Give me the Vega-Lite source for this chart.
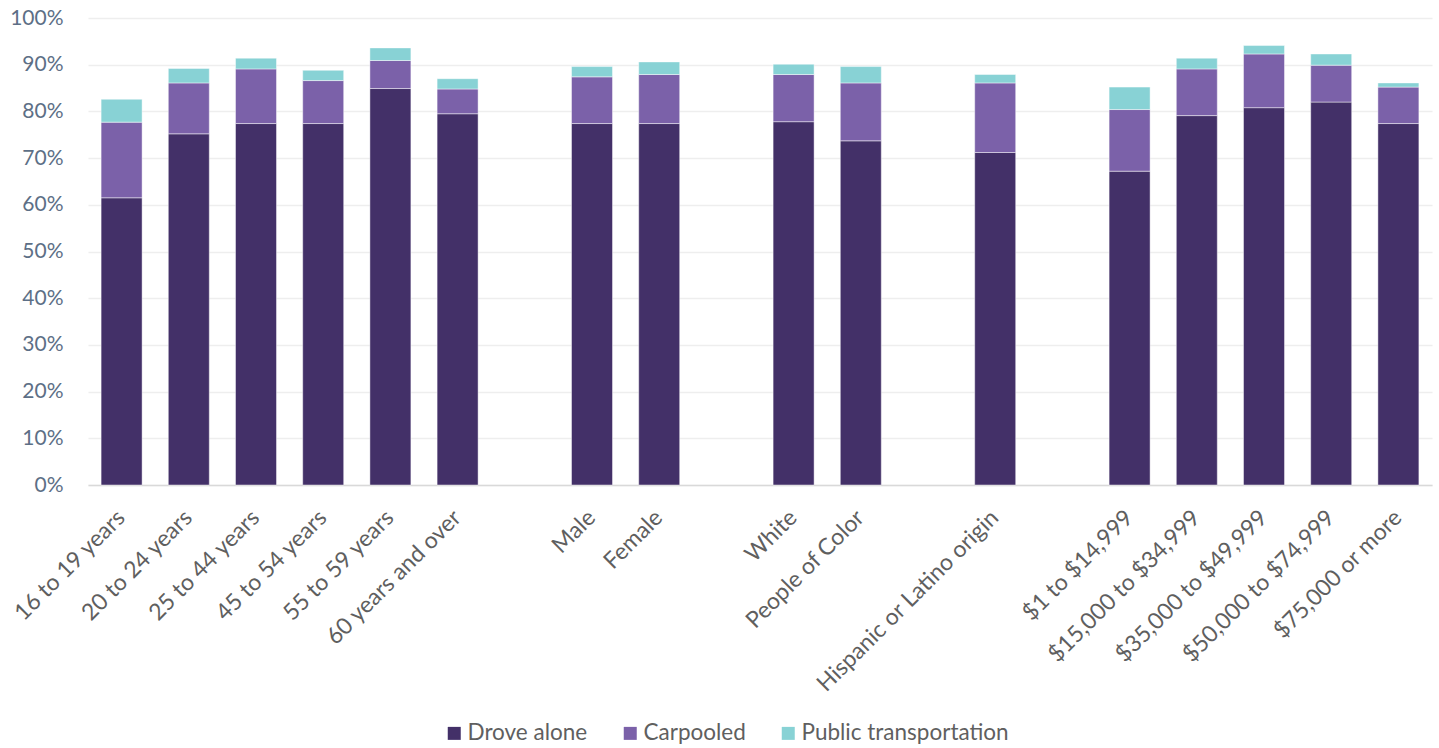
{
  "$schema": "https://vega.github.io/schema/vega-lite/v6.json",
  "width": 1344,
  "height": 467,
  "autosize": {"type": "none"},
  "padding": {"left": 88, "top": 18, "right": 7, "bottom": 263},
  "background": "#ffffff",
  "data": {
    "values": [
      {"group": "16 to 19 years", "mode": "Drove alone", "k": 1, "value": 61.5},
      {"group": "16 to 19 years", "mode": "Carpooled", "k": 2, "value": 16.2},
      {"group": "16 to 19 years", "mode": "Public transportation", "k": 3, "value": 4.9},
      {"group": "20 to 24 years", "mode": "Drove alone", "k": 1, "value": 75.2},
      {"group": "20 to 24 years", "mode": "Carpooled", "k": 2, "value": 10.9},
      {"group": "20 to 24 years", "mode": "Public transportation", "k": 3, "value": 3.1},
      {"group": "25 to 44 years", "mode": "Drove alone", "k": 1, "value": 77.4},
      {"group": "25 to 44 years", "mode": "Carpooled", "k": 2, "value": 11.7},
      {"group": "25 to 44 years", "mode": "Public transportation", "k": 3, "value": 2.3},
      {"group": "45 to 54 years", "mode": "Drove alone", "k": 1, "value": 77.4},
      {"group": "45 to 54 years", "mode": "Carpooled", "k": 2, "value": 9.2},
      {"group": "45 to 54 years", "mode": "Public transportation", "k": 3, "value": 2.2},
      {"group": "55 to 59 years", "mode": "Drove alone", "k": 1, "value": 84.9},
      {"group": "55 to 59 years", "mode": "Carpooled", "k": 2, "value": 6.0},
      {"group": "55 to 59 years", "mode": "Public transportation", "k": 3, "value": 2.7},
      {"group": "60 years and over", "mode": "Drove alone", "k": 1, "value": 79.5},
      {"group": "60 years and over", "mode": "Carpooled", "k": 2, "value": 5.3},
      {"group": "60 years and over", "mode": "Public transportation", "k": 3, "value": 2.2},
      {"group": "Male", "mode": "Drove alone", "k": 1, "value": 77.4},
      {"group": "Male", "mode": "Carpooled", "k": 2, "value": 10.0},
      {"group": "Male", "mode": "Public transportation", "k": 3, "value": 2.2},
      {"group": "Female", "mode": "Drove alone", "k": 1, "value": 77.4},
      {"group": "Female", "mode": "Carpooled", "k": 2, "value": 10.5},
      {"group": "Female", "mode": "Public transportation", "k": 3, "value": 2.7},
      {"group": "White", "mode": "Drove alone", "k": 1, "value": 77.8},
      {"group": "White", "mode": "Carpooled", "k": 2, "value": 10.1},
      {"group": "White", "mode": "Public transportation", "k": 3, "value": 2.2},
      {"group": "People of Color", "mode": "Drove alone", "k": 1, "value": 73.7},
      {"group": "People of Color", "mode": "Carpooled", "k": 2, "value": 12.4},
      {"group": "People of Color", "mode": "Public transportation", "k": 3, "value": 3.5},
      {"group": "Hispanic or Latino origin", "mode": "Drove alone", "k": 1, "value": 71.2},
      {"group": "Hispanic or Latino origin", "mode": "Carpooled", "k": 2, "value": 14.9},
      {"group": "Hispanic or Latino origin", "mode": "Public transportation", "k": 3, "value": 1.8},
      {"group": "$1 to $14,999", "mode": "Drove alone", "k": 1, "value": 67.2},
      {"group": "$1 to $14,999", "mode": "Carpooled", "k": 2, "value": 13.2},
      {"group": "$1 to $14,999", "mode": "Public transportation", "k": 3, "value": 4.8},
      {"group": "$15,000 to $34,999", "mode": "Drove alone", "k": 1, "value": 79.1},
      {"group": "$15,000 to $34,999", "mode": "Carpooled", "k": 2, "value": 10.0},
      {"group": "$15,000 to $34,999", "mode": "Public transportation", "k": 3, "value": 2.3},
      {"group": "$35,000 to $49,999", "mode": "Drove alone", "k": 1, "value": 80.8},
      {"group": "$35,000 to $49,999", "mode": "Carpooled", "k": 2, "value": 11.5},
      {"group": "$35,000 to $49,999", "mode": "Public transportation", "k": 3, "value": 1.8},
      {"group": "$50,000 to $74,999", "mode": "Drove alone", "k": 1, "value": 82.0},
      {"group": "$50,000 to $74,999", "mode": "Carpooled", "k": 2, "value": 7.9},
      {"group": "$50,000 to $74,999", "mode": "Public transportation", "k": 3, "value": 2.4},
      {"group": "$75,000 or more", "mode": "Drove alone", "k": 1, "value": 77.4},
      {"group": "$75,000 or more", "mode": "Carpooled", "k": 2, "value": 7.8},
      {"group": "$75,000 or more", "mode": "Public transportation", "k": 3, "value": 0.9}
    ]
  },
  "mark": {"type": "bar", "stroke": "#ffffff", "strokeWidth": 1, "strokeOpacity": 0.45},
  "encoding": {
    "x": {
      "field": "group",
      "type": "nominal",
      "title": null,
      "scale": {
        "domain": ["16 to 19 years", "20 to 24 years", "25 to 44 years", "45 to 54 years", "55 to 59 years", "60 years and over", "gap1", "Male", "Female", "gap2", "White", "People of Color", "gap3", "Hispanic or Latino origin", "gap4", "$1 to $14,999", "$15,000 to $34,999", "$35,000 to $49,999", "$50,000 to $74,999", "$75,000 or more"],
        "paddingInner": 0.39,
        "paddingOuter": 0.195
      },
      "axis": {
        "labelExpr": "slice(datum.value, 0, 3) == 'gap' ? '' : datum.label",
        "labelAngle": -45,
        "labelAlign": "right",
        "labelBaseline": "top",
        "labelPadding": 21,
        "labelOffset": -8,
        "labelFont": "Lato",
        "labelFontSize": 23,
        "labelColor": "#5f5f5f",
        "labelLimit": 400,
        "ticks": false,
        "domainColor": "#d9d9d9",
        "domainWidth": 1.5,
        "grid": false
      }
    },
    "y": {
      "field": "value",
      "type": "quantitative",
      "stack": "zero",
      "title": null,
      "scale": {"domain": [0, 100], "nice": false},
      "axis": {
        "values": [0, 10, 20, 30, 40, 50, 60, 70, 80, 90, 100],
        "labelExpr": "datum.value + '%'",
        "labelFont": "Lato",
        "labelFontSize": 21,
        "labelColor": "#5d6f86",
        "labelPadding": 25,
        "ticks": false,
        "domain": false,
        "grid": true,
        "gridColor": "#eeeeee",
        "gridWidth": 1.5
      }
    },
    "color": {
      "field": "mode",
      "type": "nominal",
      "title": null,
      "scale": {
        "domain": ["Drove alone", "Carpooled", "Public transportation"],
        "range": ["#433068", "#7b61a9", "#88d2d5"]
      },
      "legend": {
        "orient": "none",
        "direction": "horizontal",
        "legendX": 355,
        "legendY": 704,
        "padding": 0,
        "symbolType": "square",
        "symbolSize": 169,
        "symbolStrokeWidth": 0,
        "labelFont": "Lato",
        "labelFontSize": 22.5,
        "labelColor": "#5f5f5f",
        "labelOffset": 2,
        "columnPadding": 31,
        "labelLimit": 400
      }
    },
    "order": {"field": "k", "type": "quantitative", "sort": "ascending"}
  },
  "config": {"view": {"stroke": null}}
}
